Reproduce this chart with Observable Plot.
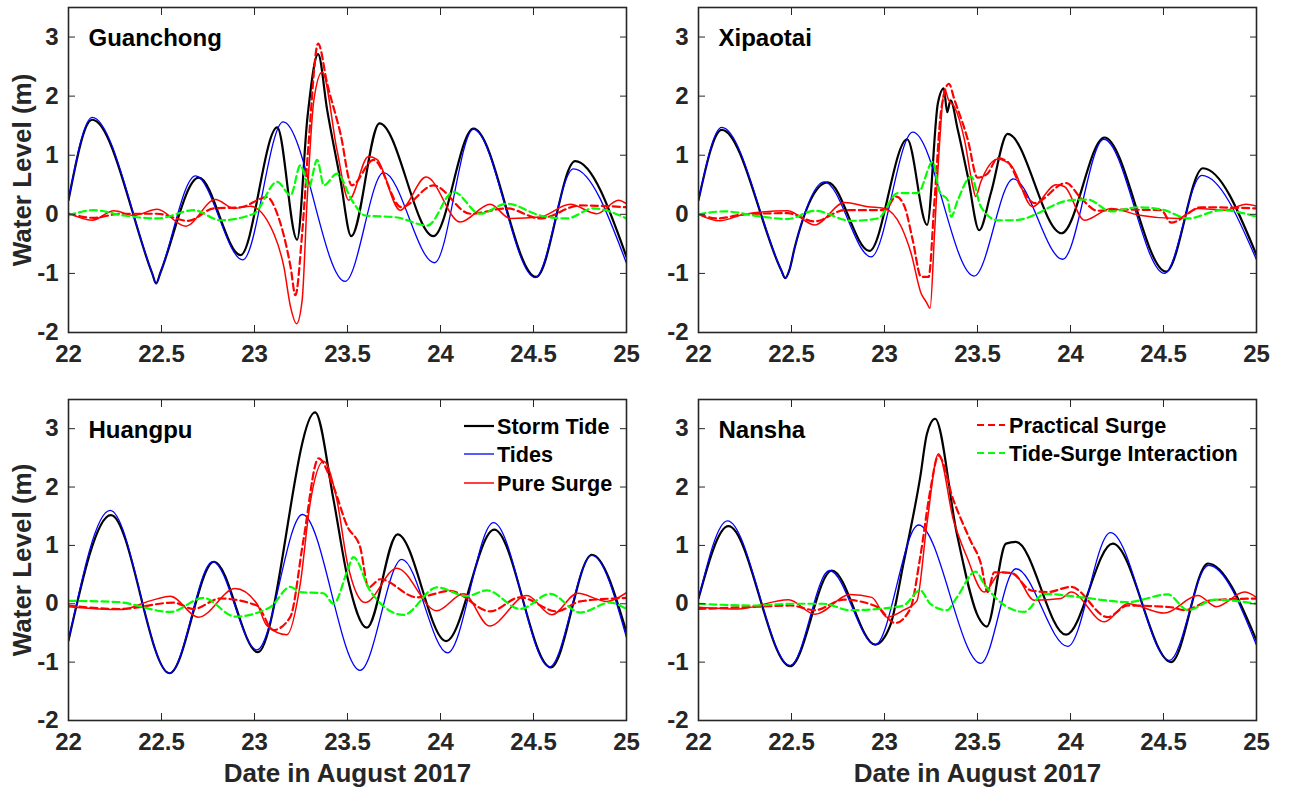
<!DOCTYPE html>
<html><head><meta charset="utf-8">
<script src="https://cdn.jsdelivr.net/npm/d3@7"></script>
<script src="https://cdn.jsdelivr.net/npm/@observablehq/plot@0.6"></script>
<style>
html,body{margin:0;padding:0;background:#fff}
#page{position:relative;width:1289px;height:793px;overflow:hidden;background:#fff;font-family:"Liberation Sans",Arial,sans-serif}
.panel{position:absolute}
.legend{position:absolute;left:0;top:0}
</style></head><body>
<div id="page"></div>
<script>
// ---------- DATA (x = day in August 2017, y = water level in m) ----------
const xTicks = [22, 22.5, 23, 23.5, 24, 24.5, 25];
const yTicks = [-2, -1, 0, 1, 2, 3];
const seriesNames = ["Storm Tide", "Tides", "Pure Surge", "Practical Surge", "Tide-Surge Interaction"];
const stationNames = ["Guanchong", "Xipaotai", "Huangpu", "Nansha"];
const xLabel = "Date in August 2017";
const yLabel = "Water Level (m)";

// Guanchong
const guanchongStorm = [[22,0.24],[22.127,1.60],[22.45,-1.0],[22.471,-1.17],[22.495,-0.98],[22.70,0.62],[22.925,-0.69],[23.122,1.47],[23.229,-0.43],[23.285,1.65],[23.342,2.71],[23.391,1.76],[23.462,0.58],[23.52,-0.37],[23.672,1.54],[23.962,-0.37],[24.177,1.45],[24.514,-1.06],[24.724,0.90],[25,-0.72]];
const guanchongTides = [[22,0.24],[22.127,1.64],[22.45,-1.0],[22.471,-1.175],[22.495,-0.98],[22.683,0.65],[22.937,-0.77],[23.154,1.565],[23.487,-1.135],[23.694,0.705],[23.968,-0.82],[24.177,1.44],[24.509,-1.07],[24.715,0.77],[25,-0.83]];
const guanchongPure = [[22,0.02],[22.127,-0.10],[22.244,0.06],[22.351,-0.02],[22.477,0.085],[22.629,-0.20],[22.79,0.25],[22.889,0.10],[22.978,0.135],[23.104,-0.33],[23.158,-0.89],[23.194,-1.57],[23.226,-1.85],[23.256,-1.46],[23.283,0.24],[23.319,1.93],[23.364,2.41],[23.444,1.08],[23.507,0.24],[23.613,0.98],[23.658,0.93],[23.783,0.07],[23.923,0.63],[24.106,-0.13],[24.267,0.17],[24.375,-0.07],[24.536,-0.045],[24.697,0.17],[24.84,0.01],[24.957,0.24],[25,0.18]];
const guanchongPractical = [[22,0.01],[22.136,-0.06],[22.28,0.01],[22.477,0.01],[22.642,-0.11],[22.781,0.10],[22.925,0.12],[23.068,0.29],[23.122,0.01],[23.194,-0.89],[23.22,-1.37],[23.256,-0.33],[23.292,1.25],[23.342,2.89],[23.391,2.21],[23.462,1.37],[23.523,0.49],[23.64,0.92],[23.79,0.12],[23.962,0.49],[24.16,0.01],[24.357,0.10],[24.536,-0.07],[24.75,0.15],[25,0.12]];
const guanchongInteraction = [[22,-0.02],[22.136,0.07],[22.297,-0.02],[22.477,-0.07],[22.674,0.07],[22.817,-0.10],[22.996,0.01],[23.122,0.55],[23.194,0.32],[23.247,0.83],[23.292,0.46],[23.337,0.92],[23.373,0.49],[23.444,0.69],[23.523,0.24],[23.595,-0.02],[23.76,-0.05],[23.93,-0.19],[24.07,0.38],[24.213,0.01],[24.357,0.18],[24.536,-0.02],[24.679,-0.07],[24.822,0.10],[25,-0.07]];

// Xipaotai
const xipaotaiStorm = [[22,0.24],[22.125,1.43],[22.444,-0.94],[22.466,-1.08],[22.489,-0.94],[22.516,-0.58],[22.695,0.54],[22.919,-0.62],[23.122,1.27],[23.229,-0.18],[23.287,1.88],[23.319,2.13],[23.337,1.73],[23.355,1.93],[23.394,1.43],[23.448,0.64],[23.509,-0.27],[23.572,0.36],[23.662,1.36],[23.952,-0.32],[24.182,1.30],[24.514,-0.97],[24.712,0.78],[25,-0.69]];
const xipaotaiTides = [[22,0.24],[22.125,1.47],[22.444,-0.94],[22.466,-1.085],[22.489,-0.94],[22.516,-0.58],[22.677,0.55],[22.928,-0.72],[23.152,1.39],[23.482,-1.045],[23.692,0.60],[23.958,-0.76],[24.179,1.27],[24.505,-1.0],[24.706,0.66],[25,-0.77]];
const xipaotaiPure = [[22,0.0],[22.113,-0.11],[22.247,0.0],[22.48,0.06],[22.624,-0.18],[22.785,0.20],[22.91,0.13],[23.0,0.10],[23.09,-0.21],[23.143,-0.66],[23.197,-1.34],[23.224,-1.48],[23.245,-1.59],[23.269,-0.32],[23.296,1.20],[23.323,2.12],[23.344,1.94],[23.376,1.82],[23.43,1.26],[23.475,0.47],[23.49,0.30],[23.518,0.55],[23.608,0.93],[23.68,0.83],[23.796,0.13],[23.922,0.50],[23.967,0.47],[24.075,-0.10],[24.218,0.10],[24.362,-0.01],[24.577,-0.07],[24.685,0.10],[24.83,0.07],[24.945,0.17],[25,0.14]];
const xipaotaiPractical = [[22,0.0],[22.104,-0.07],[22.247,0.0],[22.48,0.02],[22.624,-0.12],[22.785,0.07],[23.0,0.07],[23.063,0.30],[23.108,0.13],[23.152,-0.44],[23.197,-1.06],[23.237,-1.06],[23.269,0.24],[23.305,1.77],[23.346,2.21],[23.376,1.94],[23.448,1.26],[23.50,0.62],[23.554,0.69],[23.608,0.95],[23.662,0.89],[23.733,0.47],[23.805,0.19],[23.976,0.53],[24.057,0.27],[24.146,0.06],[24.254,0.08],[24.487,0.07],[24.541,-0.14],[24.703,0.12],[25,0.10]];
const xipaotaiInteraction = [[22,0.0],[22.14,0.05],[22.32,-0.03],[22.48,-0.08],[22.624,0.06],[22.821,-0.11],[22.964,-0.07],[23.072,0.36],[23.179,0.36],[23.26,0.89],[23.296,0.38],[23.34,0.24],[23.358,-0.04],[23.394,0.24],[23.466,0.64],[23.518,0.13],[23.608,-0.10],[23.70,-0.10],[24.003,0.24],[24.092,0.25],[24.218,0.05],[24.362,0.12],[24.505,0.07],[24.631,-0.07],[24.81,0.07],[25,-0.04]];

// Huangpu
const huangpuStorm = [[22,-0.63],[22.228,1.52],[22.543,-1.19],[22.783,0.72],[23.018,-0.83],[23.326,3.28],[23.425,1.78],[23.50,0.45],[23.604,-0.41],[23.769,1.19],[24.03,-0.64],[24.289,1.27],[24.593,-1.09],[24.814,0.84],[25,-0.49]];
const huangpuTides = [[22,-0.63],[22.224,1.60],[22.543,-1.19],[22.776,0.72],[23.013,-0.79],[23.258,1.53],[23.568,-1.14],[23.792,0.76],[24.038,-0.84],[24.285,1.39],[24.586,-1.08],[24.814,0.83],[25,-0.58]];
const huangpuPure = [[22,-0.05],[22.278,-0.10],[22.439,0.05],[22.547,0.13],[22.699,-0.23],[22.896,0.26],[23.013,0.0],[23.066,-0.37],[23.174,-0.53],[23.246,0.34],[23.299,1.72],[23.371,2.44],[23.443,1.78],[23.5,0.69],[23.595,0.02],[23.765,0.61],[23.98,-0.12],[24.124,0.17],[24.263,-0.38],[24.464,0.14],[24.599,-0.19],[24.737,0.18],[24.894,0.04],[25,0.19]];
const huangpuPractical = [[22,-0.03],[22.278,-0.09],[22.565,0.02],[22.672,-0.09],[22.815,0.09],[23.013,-0.03],[23.102,-0.45],[23.192,-0.23],[23.263,1.09],[23.344,2.49],[23.425,2.0],[23.5,1.32],[23.568,0.97],[23.613,0.28],[23.676,0.42],[23.873,0.11],[24.052,0.22],[24.267,-0.13],[24.428,0.11],[24.625,-0.13],[24.751,0.04],[25,0.10]];
const huangpuInteraction = [[22,0.05],[22.261,0.03],[22.547,-0.14],[22.726,0.10],[22.896,-0.22],[23.084,-0.06],[23.192,0.29],[23.246,0.20],[23.371,0.18],[23.425,0.0],[23.5,0.57],[23.532,0.80],[23.622,0.22],[23.801,-0.19],[23.98,0.28],[24.142,0.13],[24.249,0.23],[24.428,-0.09],[24.59,0.17],[24.751,-0.15],[24.912,0.02],[25,-0.09]];

// Nansha
const nanshaStorm = [[22,0.09],[22.161,1.33],[22.493,-1.07],[22.717,0.57],[22.95,-0.70],[23.03,-0.38],[23.102,0.69],[23.192,2.17],[23.228,2.91],[23.272,3.17],[23.389,1.20],[23.505,-0.23],[23.55,-0.39],[23.653,1.03],[23.706,1.06],[23.976,-0.53],[24.227,1.03],[24.541,-1.0],[24.739,0.69],[25,-0.63]];
const nanshaTides = [[22,0.09],[22.156,1.42],[22.493,-1.06],[22.704,0.57],[22.95,-0.70],[23.183,1.35],[23.518,-1.02],[23.706,0.60],[23.985,-0.73],[24.215,1.22],[24.532,-0.97],[24.742,0.66],[25,-0.71]];
const nanshaPure = [[22,-0.06],[22.21,-0.09],[22.484,0.07],[22.627,-0.18],[22.815,0.16],[22.932,0.11],[23.013,-0.23],[23.102,-0.11],[23.174,0.05],[23.228,1.37],[23.29,2.57],[23.371,1.43],[23.443,0.80],[23.536,0.20],[23.626,0.54],[23.698,0.51],[23.805,0.06],[23.949,0.09],[24.003,0.20],[24.182,-0.31],[24.308,0.0],[24.505,-0.16],[24.685,0.14],[24.784,-0.05],[24.936,0.20],[25,0.11]];
const nanshaPractical = [[22,-0.09],[22.32,-0.05],[22.493,-0.03],[22.627,-0.11],[22.78,0.07],[22.959,-0.05],[23.057,-0.33],[23.138,-0.09],[23.192,0.80],[23.246,1.94],[23.29,2.54],[23.371,1.77],[23.461,1.09],[23.518,0.69],[23.554,0.2],[23.59,0.54],[23.68,0.53],[23.787,0.23],[23.877,0.20],[24.003,0.29],[24.2,-0.23],[24.308,-0.03],[24.541,-0.06],[24.613,-0.11],[24.757,0.06],[25,0.09]];
const nanshaInteraction = [[22,0.0],[22.31,-0.03],[22.49,0.0],[22.67,0.0],[22.815,-0.11],[22.959,-0.09],[23.102,-0.03],[23.192,0.23],[23.246,0.0],[23.335,-0.11],[23.389,0.11],[23.49,0.55],[23.536,0.34],[23.608,0.07],[23.751,-0.14],[23.859,0.17],[24.057,0.11],[24.308,0.03],[24.523,0.16],[24.631,-0.11],[24.775,0.07],[25,0.0]];

// ---------- STYLES ----------
const seriesStyle = {
  "Storm Tide": {stroke: "#000000", strokeWidth: 2.2, dash: null},
  "Tides": {stroke: "#0000ff", strokeWidth: 1.3, dash: null},
  "Pure Surge": {stroke: "#ff0000", strokeWidth: 1.5, dash: null},
  "Practical Surge": {stroke: "#ff0000", strokeWidth: 2.2, dash: "7,4"},
  "Tide-Surge Interaction": {stroke: "#00ff00", strokeWidth: 2.2, dash: "7,4"}
};

const stations = [
  {name: stationNames[0], series: [guanchongStorm, guanchongTides, guanchongPure, guanchongPractical, guanchongInteraction], left: 0, top: 0, col: 0, row: 0},
  {name: stationNames[1], series: [xipaotaiStorm, xipaotaiTides, xipaotaiPure, xipaotaiPractical, xipaotaiInteraction], left: 630, top: 0, col: 1, row: 0},
  {name: stationNames[2], series: [huangpuStorm, huangpuTides, huangpuPure, huangpuPractical, huangpuInteraction], left: 0, top: 392, col: 0, row: 1},
  {name: stationNames[3], series: [nanshaStorm, nanshaTides, nanshaPure, nanshaPractical, nanshaInteraction], left: 630, top: 392, col: 1, row: 1}
];

const FONT = "Liberation Sans, Arial, Helvetica, sans-serif";
const page = document.getElementById("page");

for (const st of stations) {
  const bottomRow = st.row === 1;
  const innerH = bottomRow ? 321 : 325;
  const mB = bottomRow ? 73 : 38;
  const lines = st.series.map((pts, i) => {
    const s = seriesStyle[seriesNames[i]];
    return Plot.line(pts, {
      x: d => d[0], y: d => d[1],
      stroke: s.stroke, strokeWidth: s.strokeWidth,
      strokeDasharray: s.dash || undefined,
      curve: "monotone-x", clip: true
    });
  });
  const marks = [
    ...lines,
    Plot.axisX({anchor: "bottom", ticks: xTicks, tickSize: -7, tickPadding: 19, tickFormat: d => String(d), label: null, fontSize: 24, fontWeight: "bold"}),
    Plot.axisX({anchor: "top", ticks: xTicks, tickSize: -7, tickFormat: () => "", label: null}),
    Plot.axisY({anchor: "left", ticks: yTicks, tickSize: -7, tickPadding: 17, tickFormat: d => String(d), label: null, fontSize: 24, fontWeight: "bold"}),
    Plot.axisY({anchor: "right", ticks: yTicks, tickSize: -7, tickFormat: () => "", label: null}),
    Plot.frame({stroke: "#262626", strokeWidth: 1.6}),
    Plot.text([st.name], {text: d => d, frameAnchor: "top-left", dx: 20, dy: 31, lineAnchor: "middle", textAnchor: "start", fontSize: 24, fontWeight: "bold", fill: "#000"})
  ];
  if (st.col === 0) {
    marks.push(Plot.text([yLabel], {text: d => d, frameAnchor: "left", dx: -46, rotate: -90, lineAnchor: "middle", textAnchor: "middle", fontSize: 26, fontWeight: "bold", fill: "#262626"}));
  }
  if (bottomRow) {
    marks.push(Plot.text([xLabel], {text: d => d, frameAnchor: "bottom", dy: 53, lineAnchor: "middle", textAnchor: "middle", fontSize: 26, fontWeight: "bold", fill: "#262626"}));
  }
  const svg = Plot.plot({
    width: 640, height: 7 + innerH + mB,
    marginLeft: 68, marginRight: 14, marginTop: 7, marginBottom: mB,
    x: {domain: [22, 25]},
    y: {domain: [-2, 3.5]},
    style: {fontFamily: FONT, fontWeight: "bold", fontSize: "24px", color: "#262626", background: "transparent", overflow: "visible"},
    marks
  });
  const div = document.createElement("div");
  div.className = "panel";
  div.style.left = st.left + "px";
  div.style.top = st.top + "px";
  div.appendChild(svg);
  page.appendChild(div);
}

// ---------- LEGENDS ----------
const legendSvg = d3.create("svg").attr("class", "legend").attr("width", 1289).attr("height", 793)
  .style("font-family", FONT).style("font-weight", "bold").style("font-size", "21.6px");
const legendItems = [
  {name: seriesNames[0], x0: 464, x1: 494, tx: 497, y: 426},
  {name: seriesNames[1], x0: 464, x1: 494, tx: 497, y: 454},
  {name: seriesNames[2], x0: 464, x1: 494, tx: 497, y: 483},
  {name: seriesNames[3], x0: 977, x1: 1005, tx: 1009, y: 425},
  {name: seriesNames[4], x0: 977, x1: 1005, tx: 1009, y: 453}
];
for (const it of legendItems) {
  const s = seriesStyle[it.name];
  legendSvg.append("line").attr("x1", it.x0).attr("x2", it.x1).attr("y1", it.y).attr("y2", it.y)
    .attr("stroke", s.stroke).attr("stroke-width", s.strokeWidth).attr("stroke-dasharray", s.dash);
  legendSvg.append("text").attr("x", it.tx).attr("y", it.y).attr("dy", "0.36em").attr("fill", "#000").text(it.name);
}
page.appendChild(legendSvg.node());
</script>
</body></html>
